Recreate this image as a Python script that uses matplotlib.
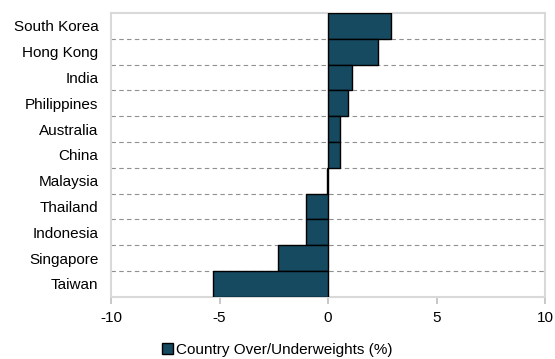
import numpy as np
import matplotlib.pyplot as plt

plt.rcParams['font.family'] = ['Liberation Sans', 'DejaVu Sans']

countries = ["South Korea", "Hong Kong", "India", "Philippines", "Australia", "China",
             "Malaysia", "Thailand", "Indonesia", "Singapore", "Taiwan"]
weights = [2.9, 2.3, 1.1, 0.9, 0.55, 0.55, -0.05, -1.0, -1.0, -2.3, -5.3]
xticks = [-10, -5, 0, 5, 10]

fig = plt.figure(figsize=(5.55, 3.59), dpi=100)
ax = fig.add_axes([0.2, 0.173, 0.782, 0.791])

y = np.arange(len(countries))
ax.barh(y, weights, height=1.0, color="#164a60", edgecolor="black", linewidth=1.0,
        label="Country Over/Underweights (%)", zorder=3)

# dashed separators between categories
for b in y[:-1] + 0.5:
    ax.axhline(b, color="#909090", linestyle=(0, (4, 3)), linewidth=0.8, zorder=1)

ax.set_ylim(len(countries) - 0.5, -0.5)
ax.set_xlim(-10, 10)
ax.set_xticks(xticks)
ax.set_xticklabels([str(t) for t in xticks])
ax.set_yticks(y)
ax.set_yticklabels(countries)

for s in ax.spines.values():
    s.set_color("#d9d9d9")
    s.set_linewidth(1.5)
ax.tick_params(axis="y", length=0, pad=9, labelsize=11)
ax.tick_params(axis="x", length=5, color="#bfbfbf", width=1.2, labelsize=11, pad=5)

fig.legend(loc="center", bbox_to_anchor=(0.5, 0.025), frameon=False, fontsize=11,
           handlelength=0.7, handleheight=0.7, handletextpad=0.2, borderpad=0)

fig.savefig("out.png", dpi=100)
